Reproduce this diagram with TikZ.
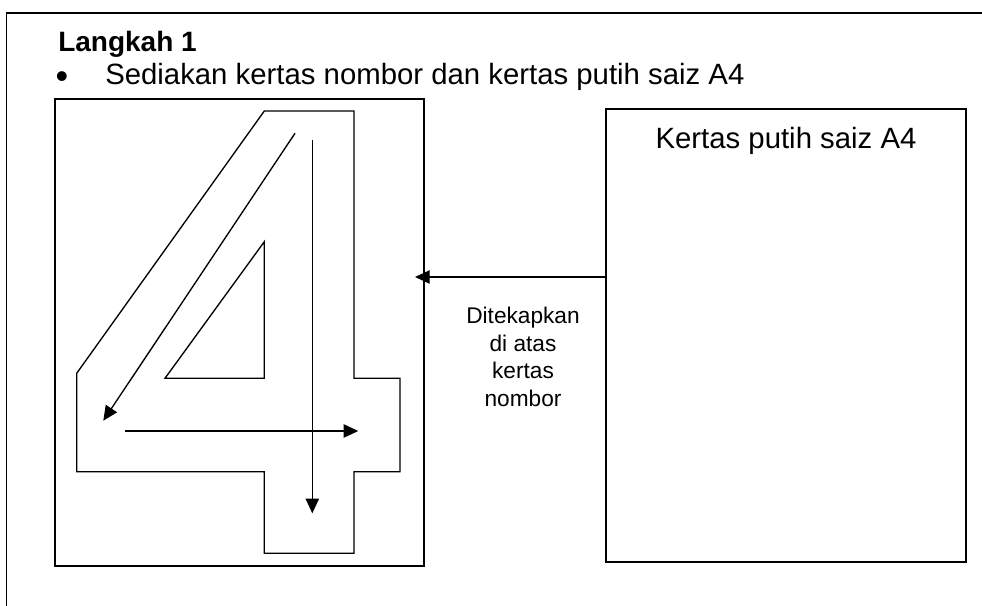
\documentclass[tikz,border=0pt]{standalone}
\usepackage{fontspec}
\setmainfont{Liberation Sans}
\usetikzlibrary{arrows.meta}
\tikzset{
    paper/.style={draw, line width=1.3pt, inner sep=0pt},
    stroke/.style={line width=1pt, -{Triangle[length=11pt, width=10pt]}}
}
\begin{document}
\begin{tikzpicture}[x=0.75pt, y=-0.75pt]
            \useasboundingbox (0, 0) rectangle (982, 606);
            \draw[line width=1.3pt] (6.5, 606) -- (6.5, 13) -- (982, 13);
            \node[anchor=base west, inner sep=0pt, font=\fontsize{21}{25}\selectfont\bfseries] (langkah) at (58, 52) {Langkah 1};
            \node[anchor=base, inner sep=0pt, font=\fontsize{27}{30}\selectfont] (bullet) at (62, 89) {•};
            \node[anchor=base west, inner sep=0pt, font=\fontsize{22}{26}\selectfont] (sedia) at (105, 85) {Sediakan kertas nombor dan kertas putih saiz A4};
            \node[paper, minimum width=276.75pt, minimum height=350.25pt] (nombor) at (239.5, 332.5) {};
            \node[paper, minimum width=270pt, minimum height=339.75pt] (kertasA4) at (786, 335.5) {};
            \node[anchor=base, inner sep=0pt, font=\fontsize{22}{26}\selectfont] (a4label) at (786, 149) {Kertas putih saiz A4};
            \draw[line width=1pt, line join=miter] (264.3, 111) -- (354, 111) -- (354, 378.3) -- (400, 378.3) -- (400, 471.7)
                -- (354, 471.7) -- (354, 553.3) -- (264.3, 553.3) -- (264.3, 471.7) -- (76.7, 471.7) -- (76.7, 373.3) -- cycle;
            \draw[line width=1pt] (264.3, 241.7) -- (264.3, 378.3) -- (165, 378.3) -- cycle;
            \draw[stroke] (295, 133.3) -- (103.3, 420.7);
            \draw[stroke] (312.3, 140) -- (312.3, 513.3);
            \draw[stroke] (125, 431) -- (358.3, 431);
            \coordinate (hujung) at (415, 277);
            \draw[stroke] (kertasA4.west |- hujung) -- (hujung);
            \node[anchor=north, inner sep=0pt, align=center, font=\fontsize{17}{20.6}\selectfont] (tekap) at (523, 307) {Ditekapkan\\di atas\\kertas\\nombor};
        \end{tikzpicture}
\end{document}
